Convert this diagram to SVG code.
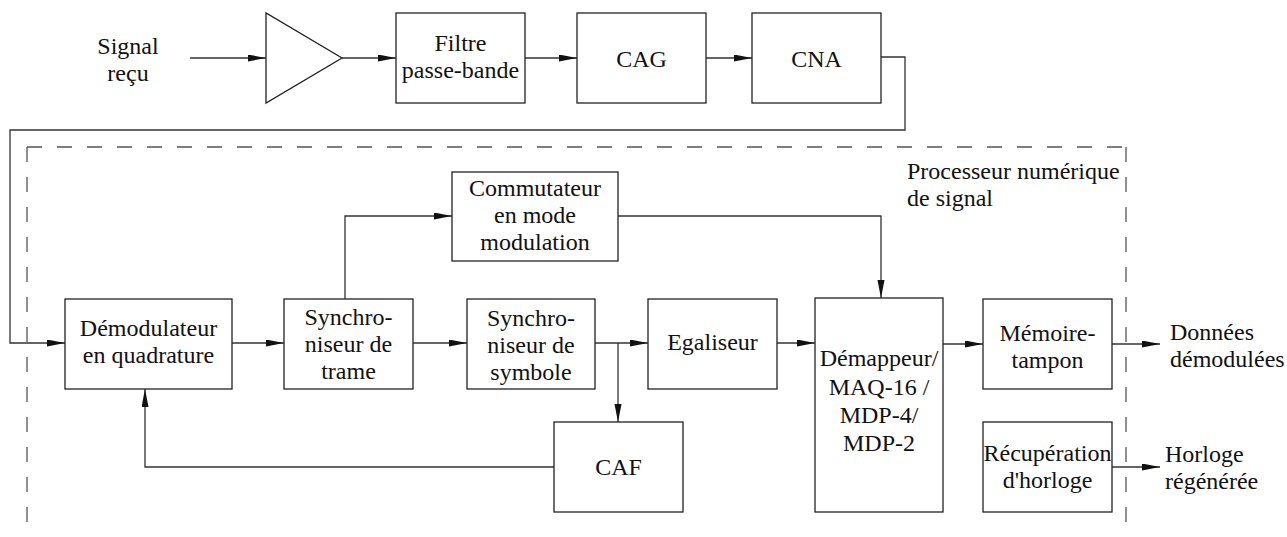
<svg xmlns="http://www.w3.org/2000/svg" width="1287" height="537" viewBox="0 0 1287 537">
<style>
.box{fill:#fff;stroke:#222;stroke-width:1.3}
.t{font-family:'Liberation Serif','DejaVu Serif',serif;font-size:24px;fill:#111;text-anchor:middle}
.tl{font-family:'Liberation Serif','DejaVu Serif',serif;font-size:24px;fill:#111;text-anchor:start}
.c{fill:none;stroke:#333;stroke-width:1.3}
.dash{fill:none;stroke:#555;stroke-width:1.3;stroke-dasharray:15 15}
</style>
<defs>
<marker id="ah" markerUnits="userSpaceOnUse" markerWidth="18" markerHeight="8" refX="18" refY="3.5" orient="auto">
<path d="M0,0 L18,3.5 L0,7 Z" fill="#111"/>
</marker>
</defs>
<rect width="1287" height="537" fill="#fff"/>
<g id="dsp-boundary">
<path class="dash" d="M27,147 H1126"/>
<path class="dash" d="M27,147 V537"/>
<path class="dash" d="M1126,147 V537"/>
</g>
<g id="connectors">
<path class="c" d="M190,58 H266" marker-end="url(#ah)"/>
<path class="c" d="M342,58 H396" marker-end="url(#ah)"/>
<path class="c" d="M525,58 H577" marker-end="url(#ah)"/>
<path class="c" d="M706,58 H752" marker-end="url(#ah)"/>
<path class="c" d="M881,57 H905 V130 H10 V343 H65" marker-end="url(#ah)"/>
<path class="c" d="M232,343 H284" marker-end="url(#ah)"/>
<path class="c" d="M413,343 H467" marker-end="url(#ah)"/>
<path class="c" d="M345,299 V216 H452" marker-end="url(#ah)"/>
<path class="c" d="M595,343 H648" marker-end="url(#ah)"/>
<path class="c" d="M618,343 V422" marker-end="url(#ah)"/>
<path class="c" d="M777,343 H815" marker-end="url(#ah)"/>
<path class="c" d="M618,216 H881 V298" marker-end="url(#ah)"/>
<path class="c" d="M554,467 H145 V389" marker-end="url(#ah)"/>
<path class="c" d="M943,344 H983" marker-end="url(#ah)"/>
<path class="c" d="M1112,344 H1160" marker-end="url(#ah)"/>
<path class="c" d="M1112,467 H1160" marker-end="url(#ah)"/>
</g>
<g id="signal-recu">
<text class="t" x="128" y="54">Signal</text>
<text class="t" x="128" y="81">reçu</text>
</g>
<g id="amplificateur">
<polygon class="box" points="266,13 266,103 342,58"/>
</g>
<g id="filtre">
<rect class="box" x="396" y="13" width="129" height="90"/>
<text class="t" x="460.5" y="51">Filtre</text>
<text class="t" x="460.5" y="78">passe-bande</text>
</g>
<g id="cag">
<rect class="box" x="577" y="13" width="129" height="90"/>
<text class="t" x="641.5" y="67">CAG</text>
</g>
<g id="cna">
<rect class="box" x="752" y="13" width="129" height="90"/>
<text class="t" x="816.5" y="67">CNA</text>
</g>
<g id="processeur-label">
<text class="tl" x="907" y="179">Processeur numérique</text>
<text class="tl" x="907" y="206">de signal</text>
</g>
<g id="commutateur">
<rect class="box" x="452" y="172" width="166" height="89"/>
<text class="t" x="535" y="196">Commutateur</text>
<text class="t" x="535" y="223">en mode</text>
<text class="t" x="535" y="250">modulation</text>
</g>
<g id="demodulateur">
<rect class="box" x="65" y="299" width="167" height="90"/>
<text class="t" x="148.5" y="336">Démodulateur</text>
<text class="t" x="148.5" y="363">en quadrature</text>
</g>
<g id="synchro-trame">
<rect class="box" x="284" y="299" width="129" height="90"/>
<text class="t" x="348.5" y="325">Synchro-</text>
<text class="t" x="348.5" y="352">niseur de</text>
<text class="t" x="348.5" y="379">trame</text>
</g>
<g id="synchro-symbole">
<rect class="box" x="467" y="299" width="128" height="90"/>
<text class="t" x="531" y="326">Synchro-</text>
<text class="t" x="531" y="353">niseur de</text>
<text class="t" x="531" y="380">symbole</text>
</g>
<g id="egaliseur">
<rect class="box" x="648" y="299" width="129" height="90"/>
<text class="t" x="712.5" y="350">Egaliseur</text>
</g>
<g id="caf">
<rect class="box" x="554" y="422" width="129" height="90"/>
<text class="t" x="618.5" y="475">CAF</text>
</g>
<g id="demappeur">
<rect class="box" x="815" y="298" width="128" height="214"/>
<text class="t" x="879" y="366">Démappeur/</text>
<text class="t" x="879" y="395">MAQ-16 /</text>
<text class="t" x="879" y="423">MDP-4/</text>
<text class="t" x="879" y="451">MDP-2</text>
</g>
<g id="memoire">
<rect class="box" x="983" y="299" width="129" height="90"/>
<text class="t" x="1047.5" y="341">Mémoire-</text>
<text class="t" x="1047.5" y="368">tampon</text>
</g>
<g id="recuperation">
<rect class="box" x="983" y="422" width="129" height="90"/>
<text class="t" x="1047.5" y="461">Récupération</text>
<text class="t" x="1047.5" y="488">d'horloge</text>
</g>
<g id="donnees">
<text class="tl" x="1170" y="340">Données</text>
<text class="tl" x="1170" y="367">démodulées</text>
</g>
<g id="horloge">
<text class="tl" x="1165" y="462">Horloge</text>
<text class="tl" x="1165" y="489">régénérée</text>
</g>
</svg>
